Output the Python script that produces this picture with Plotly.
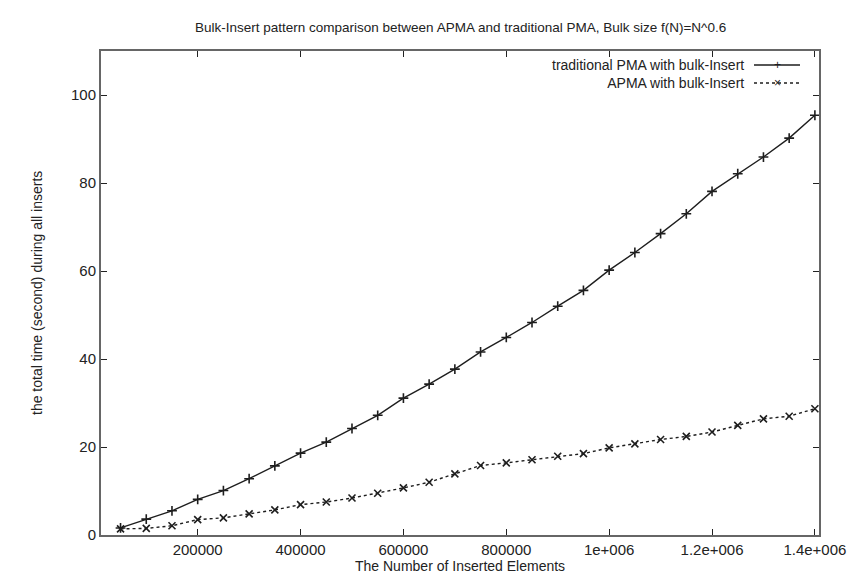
import plotly.graph_objects as go

# Data
n_inserted = [50000, 100000, 150000, 200000, 250000, 300000, 350000, 400000, 450000, 500000,
              550000, 600000, 650000, 700000, 750000, 800000, 850000, 900000, 950000, 1000000,
              1050000, 1100000, 1150000, 1200000, 1250000, 1300000, 1350000, 1400000]
traditional_pma = [1.6, 3.6, 5.5, 8.1, 10.1, 12.8, 15.7, 18.6, 21.1, 24.2,
                   27.2, 31.1, 34.3, 37.7, 41.6, 44.9, 48.3, 52.0, 55.6, 60.2,
                   64.2, 68.5, 73.0, 78.1, 82.1, 85.9, 90.2, 95.4]
apma = [1.4, 1.5, 2.1, 3.5, 3.9, 4.8, 5.7, 6.9, 7.5, 8.4,
        9.5, 10.7, 12.0, 13.9, 15.8, 16.4, 17.1, 17.9, 18.5, 19.8,
        20.7, 21.7, 22.4, 23.4, 24.9, 26.4, 27.0, 28.7]

x_tick_vals = [200000, 400000, 600000, 800000, 1000000, 1200000, 1400000]
x_tick_text = ["200000", "400000", "600000", "800000", "1e+006", "1.2e+006", "1.4e+006"]
y_tick_vals = [0, 20, 40, 60, 80, 100]

title_text = "Bulk-Insert pattern comparison between APMA and traditional PMA, Bulk size f(N)=N^0.6"
x_title = "The Number of Inserted Elements"
y_title = "the total time (second) during all inserts"
legend_names = ["traditional PMA with bulk-Insert", "APMA with bulk-Insert"]

FONT = "Liberation Sans, Arial, sans-serif"
INK = "#1e1e1e"

fig = go.Figure()
fig.add_trace(go.Scatter(
    x=n_inserted, y=traditional_pma, mode="lines+markers", name=legend_names[0],
    line=dict(color=INK, width=1.4),
    marker=dict(symbol="cross-thin", size=7, line=dict(color=INK, width=1.6)),
))
fig.add_trace(go.Scatter(
    x=n_inserted, y=apma, mode="lines+markers", name=legend_names[1],
    line=dict(color=INK, width=1.4, dash="3px,3px"),
    marker=dict(symbol="x-thin", size=7, line=dict(color=INK, width=1.6)),
))

axis_common = dict(
    showline=True, linecolor="#666666", linewidth=2, mirror="ticks",
    ticks="inside", ticklen=6, tickwidth=1.3, tickcolor="#222222",
    showgrid=False, zeroline=False,
    tickfont=dict(family=FONT, size=15, color="#222222"),
)

fig.update_layout(
    width=858, height=574,
    margin=dict(l=93, r=47, t=43, b=47),
    paper_bgcolor="white", plot_bgcolor="white",
    showlegend=False,
    xaxis=dict(range=[12000, 1408000], tickvals=x_tick_vals, ticktext=x_tick_text, **axis_common),
    yaxis=dict(range=[0, 110], tickvals=y_tick_vals, **axis_common),
    font=dict(family=FONT, color="#222222"),
)

# title and axis titles
fig.add_annotation(text=title_text, xref="paper", yref="paper", x=0.5, y=1,
                   yshift=24, showarrow=False, font=dict(size=13.5, family=FONT),
                   xanchor="center", yanchor="middle")
fig.add_annotation(text=x_title, xref="paper", yref="paper", x=0.5, y=0,
                   yshift=-31, showarrow=False, font=dict(size=14, family=FONT),
                   xanchor="center", yanchor="middle")
fig.add_annotation(text=y_title, xref="paper", yref="paper", x=0, y=0.5,
                   xshift=-64, showarrow=False, textangle=-90, font=dict(size=14, family=FONT),
                   xanchor="center", yanchor="middle")

# gnuplot-style key: text right-aligned, sample to the right
plot_w = 858 - 93 - 47
plot_h = 574 - 43 - 47
def px_x(p):
    return (p - 93) / plot_w
def px_y(p):
    return 1 - (p - 43) / plot_h

row_y = [57, 75]
fig.add_annotation(text="<br>".join(legend_names), xref="paper", yref="paper",
                   x=px_x(738), y=px_y((row_y[0] + row_y[1]) / 2),
                   showarrow=False, xanchor="right", yanchor="middle", align="right",
                   font=dict(size=14, family=FONT, color="#222222"))
for ry, dash, sym in zip(row_y, ["solid", "3px,3px"], ["+", "×"]):
    fig.add_shape(type="line", xref="paper", yref="paper",
                  x0=px_x(746), x1=px_x(792), y0=px_y(ry), y1=px_y(ry),
                  line=dict(color=INK, width=1.3, dash=dash))
    fig.add_annotation(text=sym, xref="paper", yref="paper", x=px_x(769), y=px_y(ry),
                       showarrow=False, xanchor="center", yanchor="middle",
                       font=dict(size=12, family=FONT, color=INK))

fig.write_html("out.html")
